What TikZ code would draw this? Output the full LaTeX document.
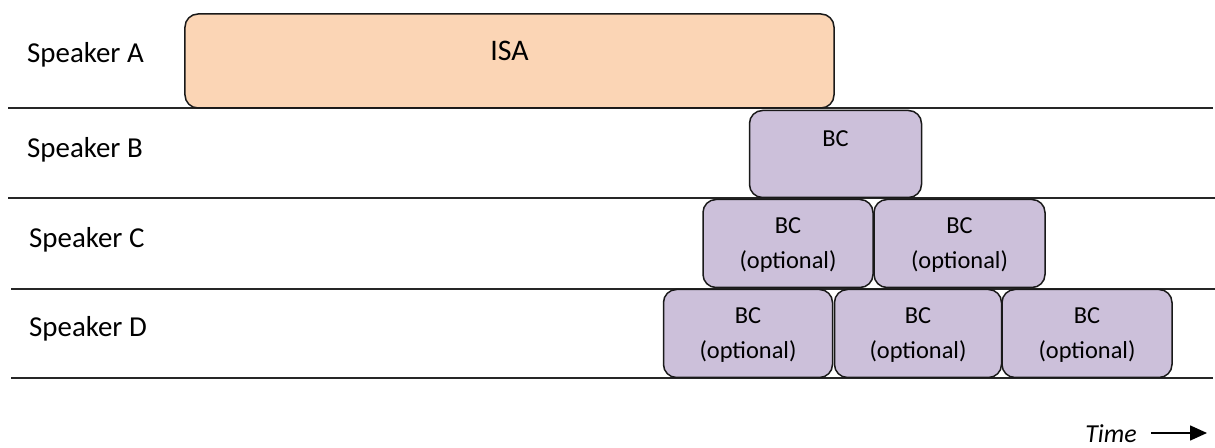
\documentclass[tikz,border=0pt]{standalone}
\usepackage{fontspec}
\setmainfont{Carlito}
\usetikzlibrary{calc,arrows.meta}
\definecolor{isafill}{HTML}{FBD5B5}
\definecolor{bcfill}{HTML}{CCC0DA}
\begin{document}
\begin{tikzpicture}[x=1bp,y=-1bp,
  lane/.style={line width=1.5bp,black!85},
  turn/.style={draw=black!90,line width=1.5bp,rounded corners=13bp,inner sep=0pt},
  isabox/.style={turn,fill=isafill},
  bcbox/.style={turn,fill=bcfill},
  speaker/.style={anchor=west,inner sep=0pt,font=\fontsize{29}{33}\selectfont},
  bctext/.style={inner sep=0pt,align=center,font=\fontsize{24.5}{35}\selectfont},
]
\useasboundingbox (0,0) rectangle (1215,448);

% lane separators
\draw[lane] (8,108) -- (1213,108);
\draw[lane] (8,198) -- (1215,198);
\draw[lane] (11,289) -- (1215,289);
\draw[lane] (11,378) -- (1213,378);

% speaker names
\node[speaker] (sa) at (27,55) {Speaker A};
\node[speaker] (sb) at (27,150) {Speaker B};
\node[speaker] (sc) at (29,240) {Speaker C};
\node[speaker] (sd) at (29,329) {Speaker D};

% initiating speech act
\node[isabox,minimum width=649bp,minimum height=94bp] (isa) at (509.5,61) {};
\node[inner sep=0pt,font=\fontsize{30}{34}\selectfont] (isat) at ($(isa.north)+(0,38)$) {ISA};

% backchannels
\node[bcbox,minimum width=172bp,minimum height=87bp] (b1) at (835.5,154) {};
\node[bctext] (b1t) at ($(b1.north)+(0,29)$) {BC};

\node[bcbox,minimum width=170bp,minimum height=88bp] (c1) at (788,243.5) {};
\node[bcbox,minimum width=171bp,minimum height=88bp] (c2) at (959.5,243.5) {};
\node[bctext] (c1t) at ($(c1.north)+(0,46)$) {BC\\(optional)};
\node[bctext] (c2t) at ($(c2.north)+(0,46)$) {BC\\(optional)};

\node[bcbox,minimum width=169bp,minimum height=88bp] (d1) at (748,333.5) {};
\node[bcbox,minimum width=167bp,minimum height=88bp] (d2) at (918,333.5) {};
\node[bcbox,minimum width=170bp,minimum height=88bp] (d3) at (1087,333.5) {};
\node[bctext] (d1t) at ($(d1.north)+(0,46)$) {BC\\(optional)};
\node[bctext] (d2t) at ($(d2.north)+(0,46)$) {BC\\(optional)};
\node[bctext] (d3t) at ($(d3.north)+(0,46)$) {BC\\(optional)};

% time axis
\node[anchor=east,inner sep=0pt,font=\fontsize{26}{30}\selectfont\itshape] (time) at (1137,434) {Time};
\coordinate (tend) at (1207,433);
\draw[line width=1.6bp,-{Triangle[length=17bp,width=15bp]}] ($(time.east)+(14,-1)$) -- (tend);
\end{tikzpicture}
\end{document}
